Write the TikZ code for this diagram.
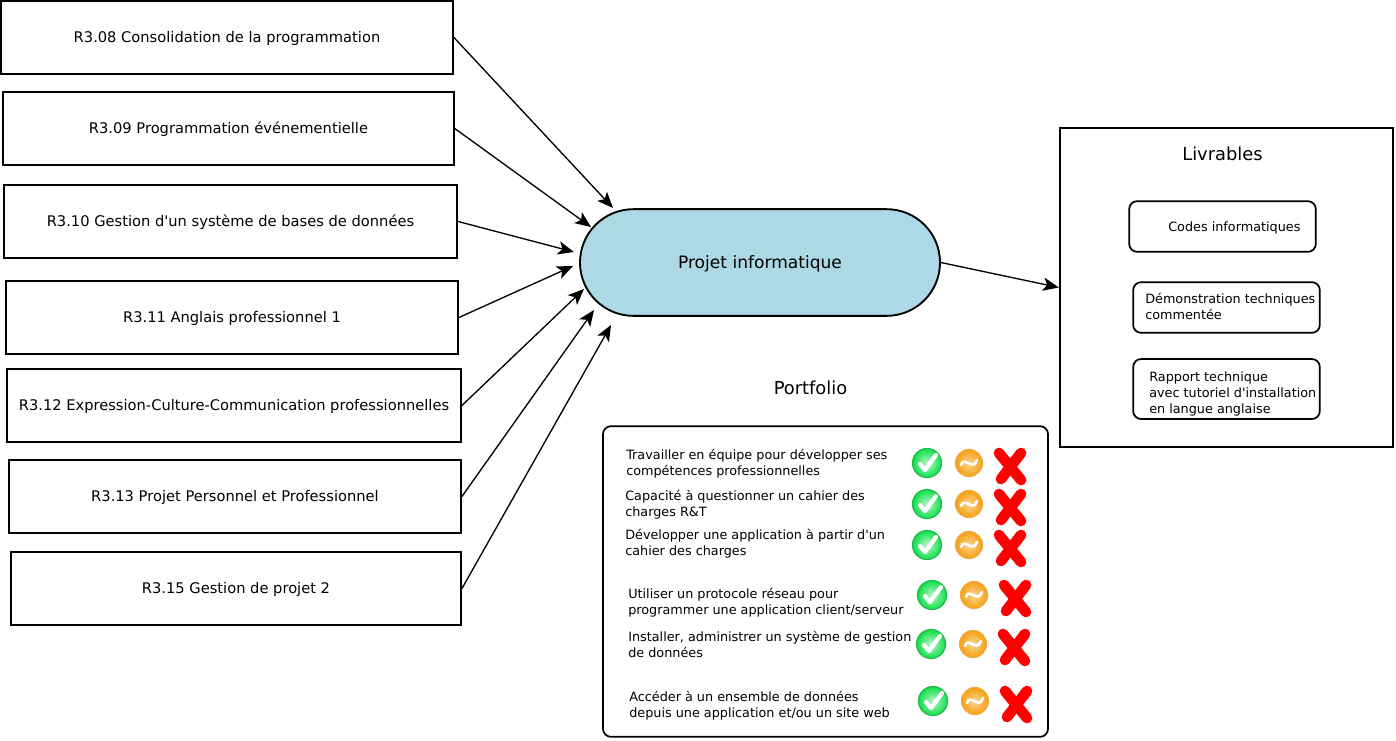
\documentclass[tikz,border=0pt]{standalone}
\usepackage{fontspec}
\setmainfont{DejaVu Sans}
\usetikzlibrary{arrows.meta,shapes.misc,positioning}
\definecolor{blobblue}{HTML}{ADD8E6}
\definecolor{okgreen}{HTML}{0FE04A}
\definecolor{okedge}{HTML}{22B84C}
\definecolor{midorange}{HTML}{F5A010}
\definecolor{midedge}{HTML}{F0A840}
\tikzset{module/.style={draw, line width=1.4pt, minimum height=54.75pt, inner sep=0pt, text height=8pt, text depth=0pt, font=\fontsize{11}{12}\selectfont}}
\tikzset{deliv/.style={draw, line width=1.3pt, rounded corners=6pt, inner sep=0pt, minimum width=140pt}}
\tikzset{small/.style={inner sep=0pt, anchor=west, align=left, font=\fontsize{9.6}{12}\selectfont}}
\tikzset{title/.style={inner sep=0pt, font=\fontsize{13.4}{15}\selectfont}}
\tikzset{link/.style={->, line width=1pt}}
% one row of marks, origin on the green mark
\tikzset{marks/.pic={
  \draw[line width=0.9pt, draw=okedge, inner color=okgreen!30, outer color=okgreen] (0,0) circle (14.5);
  \draw[white, line width=3.2pt, line cap=round, line join=round] (-7,1) -- (-2,7) -- (9,-8);
  \draw[line width=0.9pt, draw=midedge, inner color=midorange!45, outer color=midorange] (42,0) circle (13.5);
  \draw[white, line width=2pt, line cap=round] (34,2) .. controls (37,-8) and (46,9) .. (50,-3);
  \draw[red, line width=8pt, line cap=round] (72,-10) -- (94,17);
  \draw[red, line width=8pt, line cap=round] (94,-10) -- (74,16);
}}
\begin{document}
\begin{tikzpicture}[x=0.75pt, y=-0.75pt, >={Stealth[length=12pt,width=10pt,inset=3pt]}]
\useasboundingbox (0,0) rectangle (1396,740);
\node[module, minimum width=339pt] (R08) at (227,37.5) {R3.08 Consolidation de la programmation};
\node[module, minimum width=338pt] (R09) at (228.5,128.5) {R3.09 Programmation événementielle};
\node[module, minimum width=340pt] (R10) at (230.5,221.5) {R3.10 Gestion d\textquotesingle un système de bases de données};
\node[module, minimum width=339pt] (R11) at (232,317.5) {R3.11 Anglais professionnel 1};
\node[module, minimum width=340.5pt] (R12) at (234,405.5) {R3.12 Expression-Culture-Communication professionnelles};
\node[module, minimum width=339pt] (R13) at (235,496.5) {R3.13 Projet Personnel et Professionnel};
\node[module, minimum width=337.5pt] (R15) at (236,588.5) {R3.15 Gestion de projet 2};

\node[draw, rounded rectangle, line width=1.4pt, fill=blobblue, minimum width=270pt, minimum height=80pt, inner sep=0pt, text height=9.5pt, text depth=0pt, font=\fontsize{12.8}{15}\selectfont] (P) at (760,262.5) {Projet informatique};

\coordinate (E08) at (613,208);
\coordinate (E09) at (591,227);
\coordinate (E10) at (574,252);
\coordinate (E11) at (573,266);
\coordinate (E12) at (584,289);
\coordinate (E13) at (594,310);
\coordinate (E15) at (611,325);
\draw[link] (R08.east) -- (E08);
\draw[link] (R09.east) -- (E09);
\draw[link] (R10.east) -- (E10);
\draw[link] (R11.east) -- (E11);
\draw[link] (R12.east) -- (E12);
\draw[link] (R13.east) -- (E13);
\draw[link] (R15.east) -- (E15);

\node[draw, line width=1.4pt, minimum width=250pt, minimum height=239pt, inner sep=0pt] (L) at (1226.5,287.5) {};
\draw[link] (P.east) -- (L.west);
\node[title] (Ltitle) at (1222.5,154) {Livrables};
\node[deliv, minimum height=38pt] (D1) at (1222.5,226.5) {};
\node[deliv, minimum height=38pt] (D2) at (1226.5,307.5) {};
\node[deliv, minimum height=45pt] (D3) at (1226.5,389) {};
\node[small] (D1t) at (1168,227.5) {Codes informatiques};
\node[small] (D2t) at (1145,306.5) {Démonstration techniques\\commentée};
\node[small] (D3t) at (1149,393.5) {Rapport technique\\avec tutoriel d\textquotesingle installation\\en langue anglaise};

\node[title] (Ptitle) at (810.5,388) {Portfolio};
\node[draw, line width=1.3pt, rounded corners=6pt, minimum width=333.75pt, minimum height=233pt, inner sep=0pt] (F) at (825.5,581.5) {};
\node[small] (T1) at (626,464) {Travailler en équipe pour développer ses\\compétences professionnelles};
\node[small] (T2) at (625,505) {Capacité à questionner un cahier des\\charges R\&T};
\node[small] (T3) at (625,544) {Développer une application à partir d\textquotesingle un\\cahier des charges};
\node[small] (T4) at (628,603) {Utiliser un protocole réseau pour\\programmer une application client/serveur};
\node[small] (T5) at (628,644) {Installer, administrer un système de gestion\\de données};
\node[small] (T6) at (629,706) {Accéder à un ensemble de données\\depuis une application et/ou un site web};
\pic at (927,463) {marks};
\pic at (927,504) {marks};
\pic at (927,545) {marks};
\pic at (932,595) {marks};
\pic at (931,644) {marks};
\pic at (933,701) {marks};
\end{tikzpicture}
\end{document}
